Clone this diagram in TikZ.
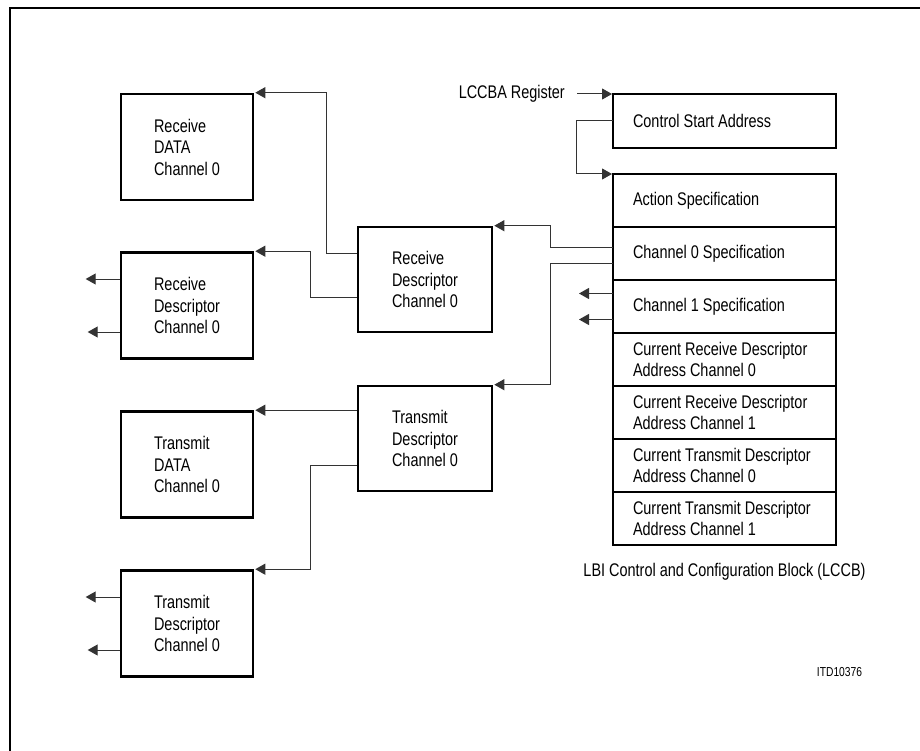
\documentclass[tikz,border=0pt]{standalone}
\usepackage{fontspec}
\setmainfont[FakeStretch=0.79]{Liberation Sans}
\usetikzlibrary{arrows.meta,positioning}

\begin{document}
\begin{tikzpicture}[x=1pt,y=-1pt,node distance=0pt,
    every node/.style={font=\fontsize{18.3}{21.5}\selectfont},
    blk/.style={draw,line width=2.6pt,minimum width=132pt,minimum height=106pt,align=left},
    cell/.style={draw,line width=2.6pt,outer sep=0pt,minimum height=53pt,
      text width=183pt,inner xsep=20pt,align=flush left,
      execute at begin node={\hyphenpenalty 10000\relax}},
    link/.style={-{Triangle[length=10pt,width=11pt]},shorten >=1pt,line width=1pt,black!80}]
  \useasboundingbox (0,0) rectangle (920,751);
  \draw[line width=1.5pt] (920,8) -- (10,8) -- (10,751);

  % left column
  \node[blk] (rxdata) at (187,147) {Receive\\DATA\\Channel 0};
  \node[blk] (rxdl) at (187,305.5) {Receive\\Descriptor\\Channel 0};
  \node[blk] (txdata) at (187,464.5) {Transmit\\DATA\\Channel 0};
  \node[blk] (txdl) at (187,623.5) {Transmit\\Descriptor\\Channel 0};

  % middle column
  \node[blk,minimum width=134pt,minimum height=105pt] (rxdm) at (425,279.5) {Receive\\Descriptor\\Channel 0};
  \node[blk,minimum width=134pt,minimum height=105pt] (txdm) at (425,438.5) {Transmit\\Descriptor\\Channel 0};

  % LCCB
  \node[cell,minimum height=54pt] (csa) at (724.5,121) {Control Start Address};
  \node[cell] (act) at (724.5,200.5) {Action Specification};
  \node[cell,below=of act] (ch0) {Channel 0 Specification};
  \node[cell,below=of ch0] (ch1) {Channel 1 Specification};
  \node[cell,below=of ch1] (crd0) {Current Receive Descriptor\\Address Channel 0};
  \node[cell,below=of crd0] (crd1) {Current Receive Descriptor\\Address Channel 1};
  \node[cell,below=of crd1] (ctd0) {Current Transmit Descriptor\\Address Channel 0};
  \node[cell,below=of ctd0] (ctd1) {Current Transmit Descriptor\\Address Channel 1};
  \node (cap) at (724.5,572) {LBI Control and Configuration Block (LCCB)};
  \node[inner sep=0pt,anchor=east] (reg) at (565,94) {LCCBA Register};
  \node[font=\fontsize{13}{15}\selectfont] (itd) at (839.5,672) {ITD10376};

  \draw[link] ([xshift=12pt]reg.east) -- (csa.north west);
  \draw[link] (csa.west) -- ++(-37,0) |- (act.north west);
  \draw[link] ([yshift=6pt]ch0.west) -- ++(-63,0) |- (rxdm.north east);
  \draw[link] ([yshift=-10pt]ch0.west) -- ++(-63,0) |- (txdm.north east);
  \draw[link] ([yshift=13pt]ch1.west) -- ++(-35,0);
  \draw[link] ([yshift=-13pt]ch1.west) -- ++(-35,0);

  \draw[link] ([yshift=26.5pt]rxdm.west) -- ++(-30,0) |- (rxdata.north east);
  \draw[link] ([yshift=-17.5pt]rxdm.west) -- ++(-46,0) |- (rxdl.north east);
  \draw[link] (txdata.north east -| txdm.west) -- (txdata.north east);
  \draw[link] ([yshift=-26.5pt]txdm.west) -- ++(-46,0) |- (txdl.north east);

  \draw[link] ([yshift=26.5pt]rxdl.west) -- ++(-35,0);
  \draw[link] ([yshift=-26.5pt]rxdl.west) -- ++(-33,0);
  \draw[link] ([yshift=26.5pt]txdl.west) -- ++(-35,0);
  \draw[link] ([yshift=-26.5pt]txdl.west) -- ++(-33,0);
\end{tikzpicture}
\end{document}
